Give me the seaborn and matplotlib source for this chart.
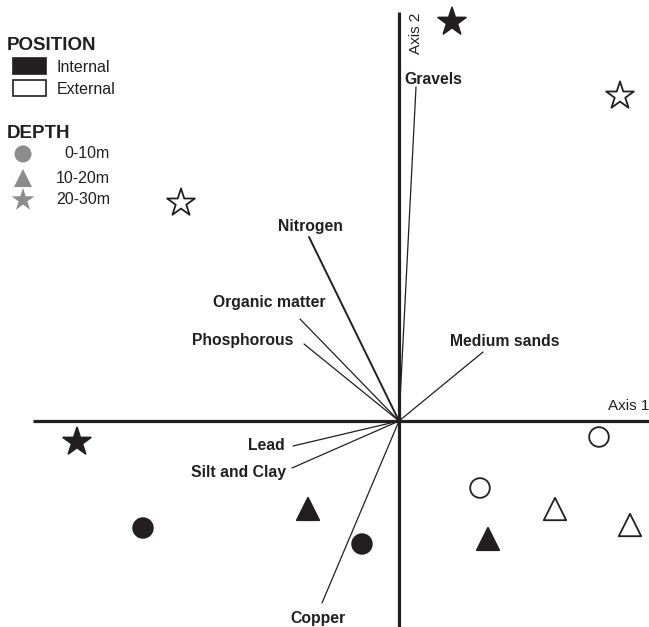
import matplotlib
matplotlib.use("Agg")
import matplotlib.pyplot as plt
import seaborn as sns
import pandas as pd
from matplotlib.patches import Rectangle

sns.set_style("white")
plt.rcParams['font.family'] = ['Liberation Sans', 'DejaVu Sans']

INK = '#231f20'
GREY = '#8c8c8c'

# Sample scores on the first two ordination axes
sample_x = [0.53, -3.22, 2.21, -2.18, -2.56, -0.37, -0.91, 0.89, 2.00, 0.81, 1.56, 2.31]
sample_y = [3.99, -0.21, 3.25, 2.18, -1.07, -1.23, -0.88, -1.18, -0.16, -0.67, -0.88, -1.04]
position = ['Internal', 'Internal', 'External', 'External',
            'Internal', 'Internal', 'Internal', 'Internal',
            'External', 'External', 'External', 'External']
depth = ['20-30m', '20-30m', '20-30m', '20-30m',
         '0-10m', '0-10m', '10-20m', '10-20m',
         '0-10m', '0-10m', '10-20m', '10-20m']

# Environmental variable loadings (vector tips)
variables = ['Gravels', 'Nitrogen', 'Organic matter', 'Phosphorous',
             'Medium sands', 'Lead', 'Silt and Clay', 'Copper']
var_x = [0.17, -0.90, -0.99, -0.95, 0.84, -1.06, -1.07, -0.77]
var_y = [3.34, 1.84, 1.02, 0.77, 0.69, -0.25, -0.47, -1.82]
label_x = [0.34, -0.89, -1.30, -1.56, 1.06, -1.14, -1.13, -0.81]
label_y = [3.41, 1.95, 1.19, 0.80, 0.80, -0.25, -0.52, -1.98]
label_ha = ['center', 'center', 'center', 'center', 'center', 'right', 'right', 'center']

depth_levels = ['0-10m', '10-20m', '20-30m']
depth_markers = {'0-10m': 'o', '10-20m': '^', '20-30m': '*'}
depth_sizes = {'0-10m': 200, '10-20m': 260, '20-30m': 440}

df = pd.DataFrame({'axis1': sample_x, 'axis2': sample_y,
                   'position': position, 'depth': depth})

W, H = 649, 627
fig = plt.figure(figsize=(W / 100, H / 100), dpi=100)
ax = fig.add_axes([0, 0, 1, 1])
ax.set_xlim(-3.99, 2.50)
ax.set_ylim(-2.06, 4.21)
ax.axis('off')

# Ordination axes
ax.plot([-3.66, 2.50], [0, 0], color=INK, lw=2.3, solid_capstyle='butt', zorder=2)
ax.plot([0, 0], [-2.06, 4.09], color=INK, lw=2.3, solid_capstyle='butt', zorder=2)
ax.text(2.50, 0.08, 'Axis 1', ha='right', va='bottom', fontsize=11, color=INK)
ax.text(0.165, 4.08, 'Axis 2', ha='center', va='top', rotation=90, fontsize=11, color=INK)

# Environmental vectors
for name, vx, vy, lx, ly, ha in zip(variables, var_x, var_y, label_x, label_y, label_ha):
    lw = 1.4 if name == 'Nitrogen' else 0.9
    ax.plot([0, vx], [0, vy], color=INK, lw=lw, zorder=3)
    ax.text(lx, ly, name, ha=ha, va='center', fontsize=11.3, fontweight='bold', color=INK)

# Samples
sns.scatterplot(data=df, x='axis1', y='axis2', hue='position', style='depth', size='depth',
                palette={'Internal': INK, 'External': 'white'},
                markers=depth_markers, sizes=depth_sizes,
                hue_order=['Internal', 'External'], style_order=depth_levels,
                size_order=depth_levels,
                edgecolor=INK, linewidth=1.3, legend=False, ax=ax, zorder=4)


def fx(px):
    return px / W


def fy(py):
    return 1 - py / H


# Position legend
fig.text(fx(7), fy(45), 'POSITION', ha='left', va='center', fontsize=13.5,
         fontweight='bold', color=INK)
fig.patches.append(Rectangle((fx(13), fy(74)), 33 / W, 16 / H, transform=fig.transFigure,
                             facecolor=INK, edgecolor=INK, lw=1.2))
fig.patches.append(Rectangle((fx(13), fy(96)), 33 / W, 16 / H, transform=fig.transFigure,
                             facecolor='white', edgecolor=INK, lw=1.2))
fig.text(fx(57), fy(67), 'Internal', ha='left', va='center', fontsize=11.5, color=INK)
fig.text(fx(57), fy(90), 'External', ha='left', va='center', fontsize=11.5, color=INK)

# Depth legend
fig.text(fx(7), fy(133), 'DEPTH', ha='left', va='center', fontsize=13.5,
         fontweight='bold', color=INK)
legend_y = [154, 178, 200]
legend_s = [150, 170, 300]
for lvl, py, s in zip(depth_levels, legend_y, legend_s):
    ax.scatter([fx(23)], [fy(py)], marker=depth_markers[lvl], s=s, color=GREY,
               edgecolor='none', transform=fig.transFigure, clip_on=False)
    fig.text(fx(110), fy(py), lvl, ha='right', va='center', fontsize=11.5, color=INK)

fig.savefig('out.png', dpi=100)
